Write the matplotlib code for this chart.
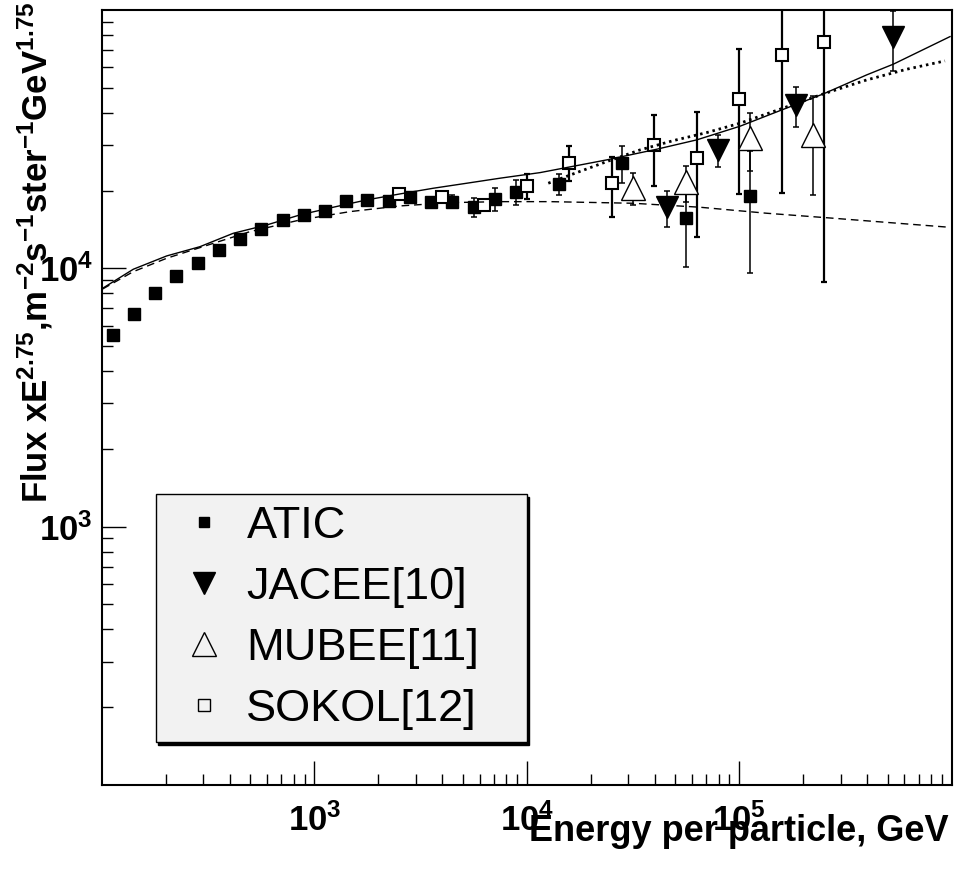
import numpy as np
import matplotlib
matplotlib.use("Agg")
import matplotlib.pyplot as plt
from matplotlib.lines import Line2D
from matplotlib.ticker import LogLocator, FuncFormatter, NullFormatter

plt.rcParams['font.family'] = ['Liberation Sans', 'DejaVu Sans']
plt.rcParams['mathtext.fontset'] = 'custom'
plt.rcParams['mathtext.rm'] = 'Liberation Sans:bold'
plt.rcParams['mathtext.it'] = 'Liberation Sans:bold'
plt.rcParams['mathtext.bf'] = 'Liberation Sans:bold'
plt.rcParams['mathtext.sf'] = 'Liberation Sans:bold'
plt.rcParams['mathtext.default'] = 'rm'

# ATIC (filled squares)
atic_e = [112.2, 141.3, 177.8, 223.9, 281.8, 354.8, 446.7, 562.3, 707.9, 891.3,
          1122, 1413, 1778, 2239, 2818, 3548, 4467, 5623, 7079, 8913,
          14130, 28180, 56230, 112200]
atic_f = [5520, 6660, 8050, 9370, 10520, 11780, 13030, 14210, 15440, 16100,
          16630, 18280, 18350, 18190, 18840, 18120, 18120, 17240, 18620, 19710,
          21170, 25660, 15630, 19020]
atic_err = [100, 120, 150, 170, 190, 210, 230, 260, 280, 300,
            320, 360, 380, 400, 450, 300, 1040, 1430, 1920, 2170,
            1970, 4200, 5500, 9450]

# JACEE[10] (filled down triangles)
jacee_e = [45570, 79200, 185100, 528000]
jacee_f = [17210, 28730, 42800, 78700]
jacee_err = [2750, 4050, 7600, 20500]

# MUBEE[11] (open triangles)
mubee_e = [31540, 56000, 112000, 223300]
mubee_f = [20420, 21550, 31880, 32850]
mubee_err = [2900, 3430, 7980, 13600]

# SOKOL[12] (open squares)
sokol_e = [2512, 3981, 6310, 10000, 15850, 25120, 39810, 63100, 100000, 158500, 251200]
sokol_f = [19360, 18950, 17600, 20910, 25660, 21470, 30050, 26690, 45150, 67000, 75460]
sokol_err = [300, 340, 480, 2300, 3970, 5600, 9300, 13500, 25800, 47360, 66580]

# model curves
solid_e = [100.8, 140.4, 201.7, 289.3, 415.2, 596.5, 855.4, 1227, 1763, 2529, 3629, 5212,
           7477, 11540, 23780, 40890, 63080, 100900, 155600, 248900, 398500, 531600, 983000]
solid_f = [8375, 9920, 11170, 12130, 13670, 14720, 16100, 17240, 18400, 19410, 20420, 21350,
           22330, 23470, 26290, 28910, 31420, 35490, 40780, 47330, 56090, 61700, 78890]

dashed_e = [100.8, 140.4, 201.7, 289.3, 497.6, 855.4, 1471, 2529, 4348, 7477, 12860,
            31720, 65330, 134700, 277300, 964800]
dashed_f = [8323, 9710, 10940, 12030, 13870, 15390, 16580, 17440, 17960, 18120, 18120,
            17860, 17240, 16340, 15630, 14430]

dotted_e = [12620, 16550, 23780, 34120, 48960, 70310, 100900, 155600, 248900, 398500,
            614600, 930800]
dotted_f = [21350, 23210, 25890, 28730, 31220, 33530, 36450, 41300, 47330, 53620,
            58980, 63520]

fig = plt.figure(figsize=(9.55, 8.74), dpi=100)
ax = fig.add_axes([102 / 955, 89 / 874, 849.6 / 955, 775 / 874])
ax.set_xscale('log')
ax.set_yscale('log')
ax.set_xlim(100, 1e6)
ax.set_ylim(100, 1e5)

# error bars first, markers on top, curves over everything
eb = dict(fmt='none', ecolor='black', elinewidth=1.1, capsize=2.5, capthick=1.1, zorder=2)
ax.errorbar(atic_e, atic_f, yerr=atic_err, **eb)
ax.errorbar(jacee_e, jacee_f, yerr=jacee_err, **eb)
ax.errorbar(mubee_e, mubee_f, yerr=mubee_err, **eb)
ax.errorbar(sokol_e, sokol_f, yerr=sokol_err, **dict(eb, elinewidth=1.6, capthick=1.6))

ax.plot(atic_e, atic_f, ls='none', marker='s', ms=8.6, color='black', zorder=3)
ax.plot(jacee_e, jacee_f, ls='none', marker='v', ms=15.8, color='black', zorder=3)
ax.plot(mubee_e, mubee_f, ls='none', marker='^', ms=17, mfc='white', mec='black', mew=1.0, zorder=3)
ax.plot(sokol_e, sokol_f, ls='none', marker='s', ms=8.6, mfc='white', mec='black', mew=1.5, zorder=3)

ax.plot(solid_e, solid_f, color='black', lw=1.0, zorder=4)
ax.plot(dashed_e, dashed_f, color='black', lw=1.0, ls=(0, (5.5, 3.5)), zorder=4)
ax.plot(dotted_e, dotted_f, color='black', lw=2.0, ls=(0, (0.9, 1.4)), zorder=4)

# axes styling (ROOT-like)
for sp in ax.spines.values():
    sp.set_linewidth(1.5)


def pow10(v, pos):
    return r'$\mathbf{10^{%d}}$' % int(round(np.log10(v)))


ax.set_xticks([1e3, 1e4, 1e5])
ax.set_yticks([1e3, 1e4])
ax.xaxis.set_minor_locator(LogLocator(base=10, subs=np.arange(2, 10), numticks=20))
ax.yaxis.set_minor_locator(LogLocator(base=10, subs=np.arange(2, 10), numticks=20))
ax.xaxis.set_major_formatter(FuncFormatter(pow10))
ax.yaxis.set_major_formatter(FuncFormatter(pow10))
ax.xaxis.set_minor_formatter(NullFormatter())
ax.yaxis.set_minor_formatter(NullFormatter())
ax.tick_params(which='both', direction='in', top=False, right=False, width=1.0)
ax.tick_params(which='major', length=17)
ax.tick_params(which='minor', length=8)
ax.tick_params(axis='x', which='major', labelsize=25, pad=13)
ax.tick_params(axis='y', which='major', labelsize=25, pad=6.5)

ax.set_xlabel('Energy per particle, GeV', fontsize=26, fontweight='bold', loc='right')
ax.xaxis.set_label_coords(0.997, -0.037)
ax.set_ylabel(r'Flux xE$^{2.75}$,m$^{-2}$s$^{-1}$ster$^{-1}$GeV$^{1.75}$',
              fontsize=25, fontweight='bold', loc='top')
ax.yaxis.set_label_coords(-0.055, 1.011)

handles = [
    Line2D([], [], ls='none', marker='s', ms=7.2, color='black'),
    Line2D([], [], ls='none', marker='v', ms=15.8, color='black'),
    Line2D([], [], ls='none', marker='^', ms=17, mfc='none', mec='black', mew=1.0),
    Line2D([], [], ls='none', marker='s', ms=8.6, mfc='none', mec='black', mew=1.0),
]
labels = ['ATIC', 'JACEE[10]', 'MUBEE[11]', 'SOKOL[12]']
leg = ax.legend(handles, labels, loc='upper left',
                bbox_to_anchor=(155.7 / 955, (874 - 736) / 874, 371 / 955, 242 / 874),
                bbox_transform=fig.transFigure, mode='expand', borderaxespad=0,
                fontsize=32.5, borderpad=0.27, handlelength=1.62, handletextpad=0.12,
                labelspacing=0.44, numpoints=1, fancybox=False, framealpha=1,
                facecolor='#f2f2f2', edgecolor='black',
                shadow={'color': 'black', 'alpha': 1})
leg.get_frame().set_linewidth(1.0)

fig.savefig('out.png', dpi=100)
